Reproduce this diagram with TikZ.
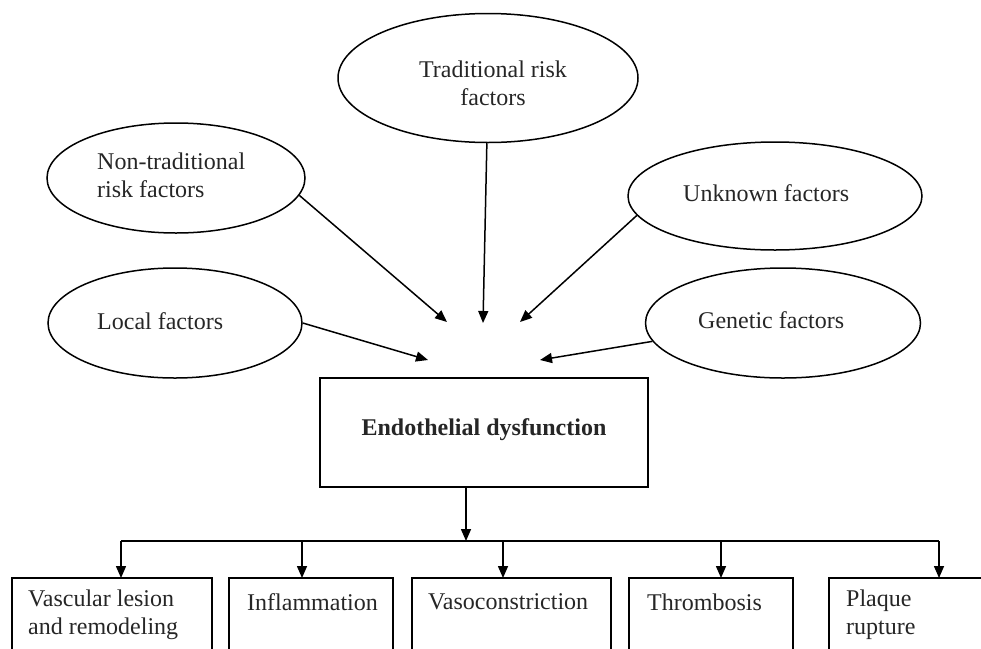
\documentclass[tikz,border=0pt]{standalone}
\usepackage{fontspec}
\setmainfont{Liberation Serif}
\usetikzlibrary{shapes.geometric,arrows.meta}
\begin{document}
\begin{tikzpicture}[x=1pt,y=-1pt,
  every node/.style={font=\fontsize{24}{28}\selectfont, text=black!85},
  oval/.style={draw, ellipse, line width=1.5pt, inner sep=0pt},
  txt/.style={inner sep=0pt, align=left},
  bigbox/.style={draw, rectangle, line width=1.5pt, inner sep=0pt},
  arr/.style={line width=1.5pt, -{Triangle[length=12pt,width=10pt]}},
  ln/.style={line width=1.5pt}]
\useasboundingbox (0,0) rectangle (981,648);
\clip (0,0) rectangle (981,648);
% ellipses
\node[oval, minimum width=300, minimum height=129] (e1) at (488,78) {};
\node[oval, minimum width=258, minimum height=110] (e2) at (176,178) {};
\node[oval, minimum width=294, minimum height=108] (e3) at (775,196) {};
\node[oval, minimum width=254, minimum height=110] (e4) at (175,323) {};
\node[oval, minimum width=275, minimum height=110] (e5) at (783,323) {};
% ellipse texts
\node[txt, align=center] (x1) at (493,83) {Traditional risk\\factors};
\node[txt, anchor=west] (x2) at (97,175) {Non-traditional\\risk factors};
\node[txt, anchor=west] (x3) at (683,193) {Unknown factors};
\node[txt, anchor=west] (x4) at (97,321) {Local factors};
\node[txt, anchor=west] (x5) at (698,320) {Genetic factors};
% arrow tips
\coordinate (t1) at (483,323);
\coordinate (t2) at (447,322);
\coordinate (t3) at (520,322);
\coordinate (t4) at (428,360);
\coordinate (t5) at (540,360);
\draw[arr] (e1.-91) -- (t1);
\draw[arr] (e2.-8.5) -- (t2);
\draw[arr] (e3.-172.9) -- (t3);
\draw[arr] (e4.0) -- (t4);
\draw[arr] (e5.-172) -- (t5);
% central box
\node[bigbox, minimum width=328, minimum height=109] (ed) at (484,432.5) {};
\node[txt, font=\fontsize{24}{28}\selectfont\bfseries] (edt) at (484,430) {Endothelial dysfunction};
% bus
\coordinate (j) at (466,541);
\coordinate (d1) at (121,541);
\coordinate (d2) at (302,541);
\coordinate (d3) at (503,541);
\coordinate (d4) at (721,541);
\coordinate (d5) at (939,541);
\draw[arr] (ed.south -| j) -- (j);
\draw[ln] (d1) -- (d5);
% bottom boxes
\draw[ln] (12,578) coordinate (b1) rectangle (212,680);
\draw[ln] (229,578) coordinate (b2) rectangle (393,680);
\draw[ln] (412,578) coordinate (b3) rectangle (611,680);
\draw[ln] (629,578) coordinate (b4) rectangle (793,680);
\draw[ln] (829,578) coordinate (b5) rectangle (1000,680);
\draw[arr] (d1) -- (d1 |- b1);
\draw[arr] (d2) -- (d2 |- b2);
\draw[arr] (d3) -- (d3 |- b3);
\draw[arr] (d4) -- (d4 |- b4);
\draw[arr] (d5) -- (d5 |- b5);
\node[txt, anchor=west] (y1) at (28,615) {Vascular lesion\\and remodeling};
\node[txt, anchor=west] (y2) at (247,602) {Inflammation};
\node[txt, anchor=west] (y3) at (428,602) {Vasoconstriction};
\node[txt, anchor=west] (y4) at (647,602) {Thrombosis};
\node[txt, anchor=west] (y5) at (846,615) {Plaque\\rupture};
\end{tikzpicture}
\end{document}
